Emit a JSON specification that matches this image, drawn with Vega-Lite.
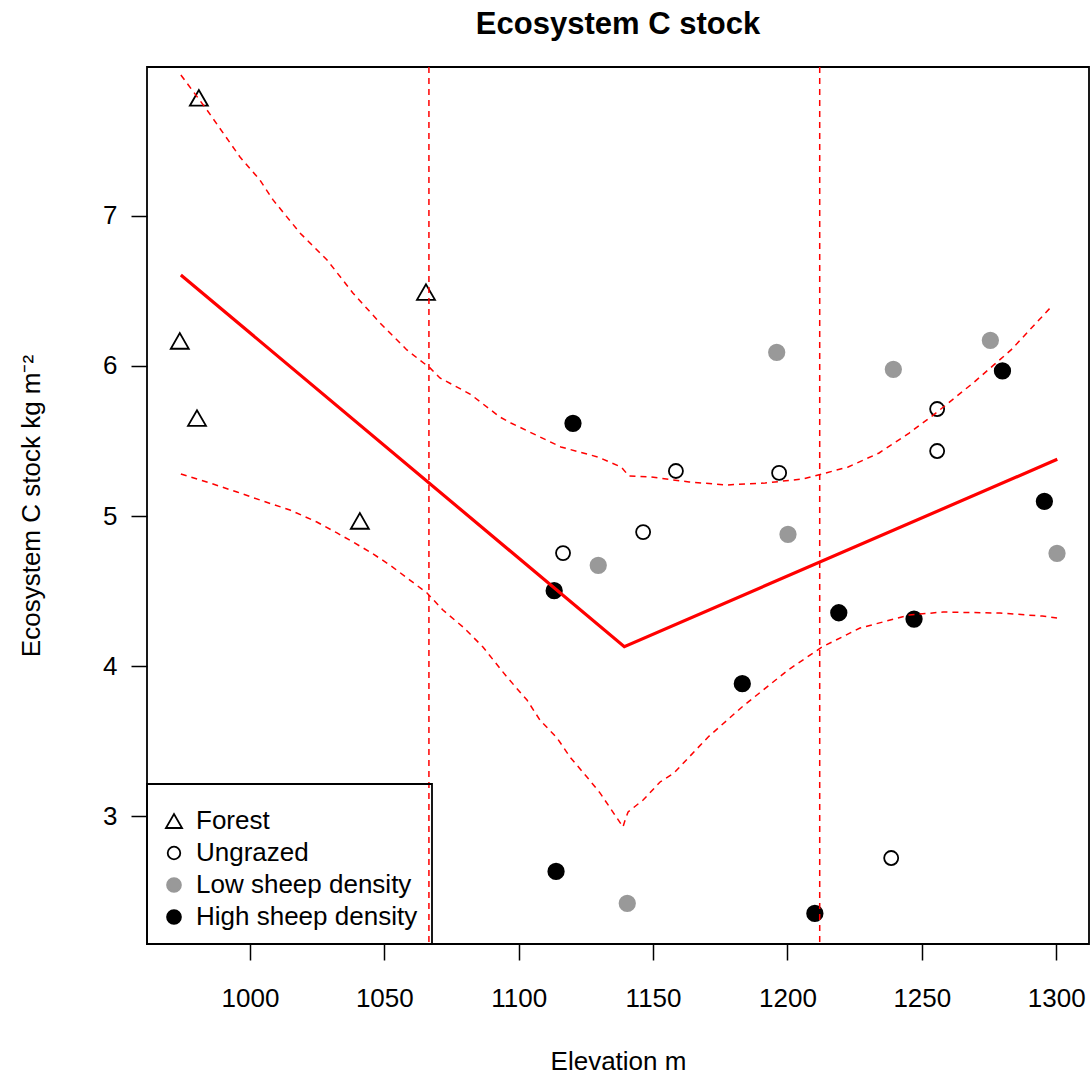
{
  "$schema": "https://vega.github.io/schema/vega-lite/v6.json",
  "width": 942,
  "height": 877,
  "autosize": {"type": "none"},
  "padding": {"left": 147, "top": 67, "right": 3, "bottom": 132},
  "background": "white",
  "title": {
    "text": "Ecosystem C stock",
    "font": "Liberation Sans",
    "fontSize": 31,
    "fontWeight": "bold",
    "color": "black",
    "anchor": "middle",
    "frame": "group",
    "offset": 25
  },
  "config": {
    "view": {"stroke": "black", "strokeWidth": 1.8},
    "axis": {
      "domain": false,
      "grid": false,
      "tickColor": "black",
      "tickWidth": 1.5,
      "tickSize": 16,
      "labelFont": "Liberation Sans",
      "labelFontSize": 26,
      "labelColor": "black",
      "titleFont": "Liberation Sans",
      "titleFontSize": 26,
      "titleFontWeight": "normal",
      "titleColor": "black"
    },
    "legend": {
      "strokeColor": "black",
      "strokeWidth": 1.8
    }
  },
  "datasets": {
    "pts": [
      {"x": 981.0, "y": 7.787, "g": "Forest"},
      {"x": 973.9, "y": 6.167, "g": "Forest"},
      {"x": 980.3, "y": 5.653, "g": "Forest"},
      {"x": 1040.9, "y": 4.967, "g": "Forest"},
      {"x": 1065.5, "y": 6.493, "g": "Forest"},
      {"x": 1116.5, "y": 4.753, "g": "Ungrazed"},
      {"x": 1146.3, "y": 4.893, "g": "Ungrazed"},
      {"x": 1158.5, "y": 5.300, "g": "Ungrazed"},
      {"x": 1196.9, "y": 5.287, "g": "Ungrazed"},
      {"x": 1255.7, "y": 5.713, "g": "Ungrazed"},
      {"x": 1255.7, "y": 5.433, "g": "Ungrazed"},
      {"x": 1238.6, "y": 2.720, "g": "Ungrazed"},
      {"x": 1129.6, "y": 4.671, "g": "Low sheep density"},
      {"x": 1196.0, "y": 6.091, "g": "Low sheep density"},
      {"x": 1200.2, "y": 4.878, "g": "Low sheep density"},
      {"x": 1239.4, "y": 5.978, "g": "Low sheep density"},
      {"x": 1275.5, "y": 6.171, "g": "Low sheep density"},
      {"x": 1300.3, "y": 4.751, "g": "Low sheep density"},
      {"x": 1140.4, "y": 2.418, "g": "Low sheep density"},
      {"x": 1120.2, "y": 5.618, "g": "High sheep density"},
      {"x": 1113.2, "y": 4.502, "g": "High sheep density"},
      {"x": 1280.0, "y": 5.967, "g": "High sheep density"},
      {"x": 1295.6, "y": 5.098, "g": "High sheep density"},
      {"x": 1219.1, "y": 4.355, "g": "High sheep density"},
      {"x": 1247.1, "y": 4.313, "g": "High sheep density"},
      {"x": 1183.2, "y": 3.882, "g": "High sheep density"},
      {"x": 1113.9, "y": 2.631, "g": "High sheep density"},
      {"x": 1210.2, "y": 2.351, "g": "High sheep density"}
    ],
    "fit": [
      {"x": 974.3, "y": 6.607},
      {"x": 1139.3, "y": 4.129},
      {"x": 1300.4, "y": 5.378}
    ],
    "vlines": [{"x": 1066.6}, {"x": 1212.0}],
    "band": [
      {"x": 974.3, "y": 7.94, "b": "upper"},
      {"x": 984.0, "y": 7.707, "b": "upper"},
      {"x": 996.3, "y": 7.393, "b": "upper"},
      {"x": 1003.7, "y": 7.24, "b": "upper"},
      {"x": 1008.6, "y": 7.107, "b": "upper"},
      {"x": 1018.6, "y": 6.887, "b": "upper"},
      {"x": 1028.7, "y": 6.707, "b": "upper"},
      {"x": 1038.3, "y": 6.487, "b": "upper"},
      {"x": 1048.4, "y": 6.287, "b": "upper"},
      {"x": 1058.4, "y": 6.107, "b": "upper"},
      {"x": 1067.0, "y": 5.987, "b": "upper"},
      {"x": 1070.7, "y": 5.92, "b": "upper"},
      {"x": 1081.9, "y": 5.813, "b": "upper"},
      {"x": 1093.0, "y": 5.66, "b": "upper"},
      {"x": 1097.1, "y": 5.62, "b": "upper"},
      {"x": 1115.7, "y": 5.46, "b": "upper"},
      {"x": 1129.5, "y": 5.393, "b": "upper"},
      {"x": 1138.1, "y": 5.327, "b": "upper"},
      {"x": 1141.0, "y": 5.267, "b": "upper"},
      {"x": 1149.2, "y": 5.26, "b": "upper"},
      {"x": 1163.4, "y": 5.227, "b": "upper"},
      {"x": 1177.5, "y": 5.207, "b": "upper"},
      {"x": 1191.7, "y": 5.22, "b": "upper"},
      {"x": 1205.8, "y": 5.247, "b": "upper"},
      {"x": 1212.9, "y": 5.28, "b": "upper"},
      {"x": 1222.6, "y": 5.327, "b": "upper"},
      {"x": 1234.1, "y": 5.42, "b": "upper"},
      {"x": 1245.3, "y": 5.553, "b": "upper"},
      {"x": 1255.3, "y": 5.687, "b": "upper"},
      {"x": 1269.1, "y": 5.887, "b": "upper"},
      {"x": 1283.2, "y": 6.107, "b": "upper"},
      {"x": 1298.8, "y": 6.407, "b": "upper"},
      {"x": 974.3, "y": 5.28, "b": "lower"},
      {"x": 985.1, "y": 5.22, "b": "lower"},
      {"x": 995.2, "y": 5.16, "b": "lower"},
      {"x": 1004.8, "y": 5.10, "b": "lower"},
      {"x": 1014.9, "y": 5.04, "b": "lower"},
      {"x": 1024.9, "y": 4.96, "b": "lower"},
      {"x": 1032.4, "y": 4.887, "b": "lower"},
      {"x": 1038.3, "y": 4.827, "b": "lower"},
      {"x": 1044.7, "y": 4.76, "b": "lower"},
      {"x": 1052.1, "y": 4.673, "b": "lower"},
      {"x": 1059.5, "y": 4.573, "b": "lower"},
      {"x": 1065.9, "y": 4.487, "b": "lower"},
      {"x": 1071.8, "y": 4.373, "b": "lower"},
      {"x": 1079.3, "y": 4.26, "b": "lower"},
      {"x": 1086.7, "y": 4.127, "b": "lower"},
      {"x": 1095.6, "y": 3.927, "b": "lower"},
      {"x": 1103.1, "y": 3.773, "b": "lower"},
      {"x": 1107.9, "y": 3.64, "b": "lower"},
      {"x": 1114.3, "y": 3.52, "b": "lower"},
      {"x": 1119.1, "y": 3.393, "b": "lower"},
      {"x": 1125.4, "y": 3.26, "b": "lower"},
      {"x": 1130.3, "y": 3.153, "b": "lower"},
      {"x": 1135.8, "y": 3.007, "b": "lower"},
      {"x": 1138.8, "y": 2.927, "b": "lower"},
      {"x": 1139.6, "y": 2.973, "b": "lower"},
      {"x": 1140.7, "y": 3.027, "b": "lower"},
      {"x": 1146.3, "y": 3.107, "b": "lower"},
      {"x": 1152.6, "y": 3.227, "b": "lower"},
      {"x": 1157.8, "y": 3.287, "b": "lower"},
      {"x": 1170.5, "y": 3.527, "b": "lower"},
      {"x": 1183.1, "y": 3.727, "b": "lower"},
      {"x": 1200.2, "y": 3.973, "b": "lower"},
      {"x": 1212.9, "y": 4.127, "b": "lower"},
      {"x": 1227.0, "y": 4.253, "b": "lower"},
      {"x": 1245.3, "y": 4.34, "b": "lower"},
      {"x": 1257.9, "y": 4.36, "b": "lower"},
      {"x": 1279.1, "y": 4.353, "b": "lower"},
      {"x": 1294.8, "y": 4.333, "b": "lower"},
      {"x": 1300.3, "y": 4.32, "b": "lower"}
    ]
  },
  "layer": [
    {
      "data": {"name": "pts"},
      "mark": {"type": "point", "size": 324, "strokeWidth": 1.8, "opacity": 1},
      "encoding": {
        "x": {
          "field": "x", "type": "quantitative",
          "scale": {"domain": [961.7, 1312.2], "nice": false, "zero": false},
          "axis": {"title": "Elevation m", "format": "d", "values": [1000, 1050, 1100, 1150, 1200, 1250, 1300], "labelPadding": 25, "titlePadding": 37, "labelFlush": false}
        },
        "y": {
          "field": "y", "type": "quantitative",
          "scale": {"domain": [2.147, 7.993], "nice": false, "zero": false},
          "axis": {"title": "Ecosystem C stock kg m⁻²", "format": "d", "values": [3, 4, 5, 6, 7], "labelPadding": 14, "titlePadding": 58, "labelFlush": false}
        },
        "shape": {
          "field": "g", "type": "nominal",
          "scale": {
            "domain": ["Forest", "Ungrazed", "Low sheep density", "High sheep density"],
            "range": [
              "M-1,0.866L1,0.866L0,-0.866Z",
              "M0.78,0A0.78,0.78 0 1,1 -0.78,0A0.78,0.78 0 1,1 0.78,0Z",
              "M0.86,0A0.86,0.86 0 1,1 -0.86,0A0.86,0.86 0 1,1 0.86,0Z",
              "M0.86,0A0.86,0.86 0 1,1 -0.86,0A0.86,0.86 0 1,1 0.86,0Z"
            ]
          },
          "legend": {
            "title": " ",
            "titleFontSize": 1,
            "titlePadding": 9,
            "orient": "bottom-left",
            "offset": 0,
            "padding": 14,
            "symbolSize": 260,
            "symbolStrokeWidth": 1.8,
            "labelFont": "Liberation Sans",
            "labelFontSize": 26,
            "labelColor": "black",
            "labelOffset": 9,
            "labelLimit": 0,
            "rowPadding": 6
          }
        },
        "fill": {
          "field": "g", "type": "nominal",
          "scale": {"domain": ["Forest", "Ungrazed", "Low sheep density", "High sheep density"], "range": ["transparent", "transparent", "#999999", "#000000"]}
        },
        "stroke": {
          "field": "g", "type": "nominal",
          "scale": {"domain": ["Forest", "Ungrazed", "Low sheep density", "High sheep density"], "range": ["#000000", "#000000", "#999999", "#000000"]}
        }
      }
    },
    {
      "data": {"name": "band"},
      "mark": {"type": "line", "color": "#FF0000", "strokeWidth": 1.5, "strokeDash": [6, 5], "clip": true},
      "encoding": {
        "x": {"field": "x", "type": "quantitative"},
        "y": {"field": "y", "type": "quantitative"},
        "detail": {"field": "b", "type": "nominal"}
      }
    },
    {
      "data": {"name": "fit"},
      "mark": {"type": "line", "color": "#FF0000", "strokeWidth": 3.2, "clip": true},
      "encoding": {
        "x": {"field": "x", "type": "quantitative"},
        "y": {"field": "y", "type": "quantitative"}
      }
    },
    {
      "data": {"name": "vlines"},
      "mark": {"type": "rule", "color": "#FF0000", "strokeWidth": 1.5, "strokeDash": [6, 5]},
      "encoding": {
        "x": {"field": "x", "type": "quantitative"}
      }
    }
  ]
}
